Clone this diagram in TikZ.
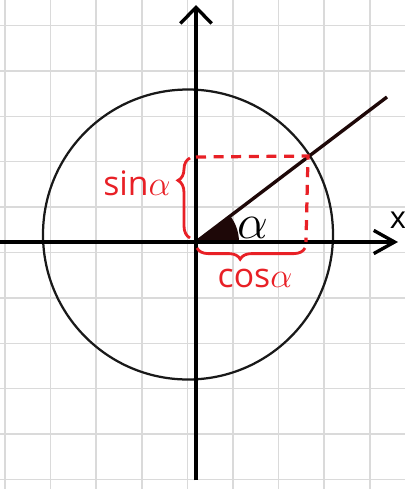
\documentclass[tikz,border=0pt]{standalone}
\usepackage{fontspec}
\setmainfont{Open Sans}
\usepackage{xcolor}
\definecolor{pred}{RGB}{232,32,38}
\definecolor{lgrid}{RGB}{218,218,218}
\definecolor{dray}{RGB}{30,8,8}
\usepackage{tikz}
\usetikzlibrary{arrows.meta,decorations.pathreplacing,calc}

\begin{document}
\begin{tikzpicture}[
  x=0.025cm, y=-0.025cm,
  gline/.style={lgrid,line width=1pt},
  axis/.style={black,line width=2.4pt},
  circ/.style={black!90,line width=1.6pt},
  ray/.style={dray,line width=2.4pt},
  dline/.style={pred,line width=2.3pt,dash pattern=on 0.25cm off 0.19cm},
  brc/.style={pred,line width=2pt,decorate},
  lab/.style={font=\fontsize{24}{28}\selectfont,text=pred,inner sep=0pt}
]
  \useasboundingbox (0,0) rectangle (405,489);

  % Grid
  \foreach \i in {0,...,8} \draw[gline] ({5+45.6*\i},0) -- ({5+45.6*\i},489);
  \foreach \j in {0,...,10} \draw[gline] (0,{25.5+45.4*\j}) -- (405,{25.5+45.4*\j});

  % Points
  \coordinate (O) at (196,242);
  \coordinate (xl) at (0,242);
  \coordinate (xr) at (398,242);
  \coordinate (yb) at (196,480);
  \coordinate (ym) at (196,425);
  \coordinate (yt) at (196,5);
  \coordinate (C) at (188,234.5);
  \coordinate (P) at (308,156);
  \coordinate (R) at (387,97);
  \coordinate (Py) at (196,157);
  \coordinate (Px) at (306,242);

  % Circle and ray
  \draw[circ] (C) circle[radius=145];
  \fill[dray] (O) -- ++(43,0) arc[start angle=0,end angle=-37.5,radius=43] -- cycle;
  \draw[ray] (O) -- (R);

  % Axes
  \draw[axis,-{Straight Barb[length=0.52cm,width=0.58cm]}] (xl) -- (xr);
  \draw[axis,-{Straight Barb[length=0.4cm,width=0.78cm]}] (yb) -- (yt);
  \draw[axis,line width=3.2pt] (yb) -- (ym);

  % Projections
  \draw[dline] (Py) -- (P) -- (Px);
  \coordinate (sb1) at (190,238);
  \coordinate (sb2) at (190,158);
  \coordinate (cb1) at (305,248);
  \coordinate (cb2) at (197,248);
  \draw[brc,decoration={brace,amplitude=0.3cm,aspect=0.72}] (sb1) -- (sb2);
  \draw[brc,decoration={brace,amplitude=0.28cm,aspect=0.6}] (cb1) -- (cb2);

  % Labels
  \node[lab] (sin) at (137,183) {sin$\alpha$};
  \node[lab] (cos) at (255,278) {cos$\alpha$};
  \node[lab,text=black,scale=1.4] (alpha) at (253,228) {$\alpha$};
  \node[lab,text=black,font=\fontsize{22}{24}\selectfont] (xlab) at (398,220) {x};
\end{tikzpicture}
\end{document}
